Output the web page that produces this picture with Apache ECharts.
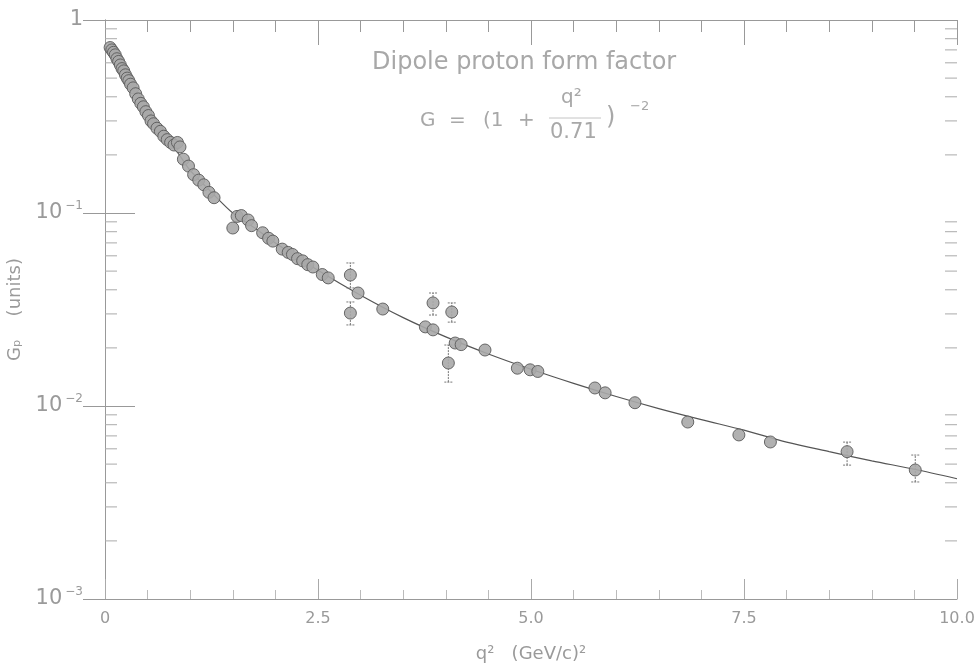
<!DOCTYPE html>
<html>
<head>
<meta charset="utf-8">
<style>
  html, body { margin: 0; padding: 0; background: #fff; }
  #chart { width: 980px; height: 671px; }
</style>
<script src="https://cdn.jsdelivr.net/npm/echarts@6/dist/echarts.min.js"></script>
</head>
<body>
<div id="chart"></div>
<script>
// measured points, q^2 (GeV^2) and G
const pointX = [0.06, 0.08, 0.10, 0.12, 0.14, 0.16, 0.18, 0.20, 0.22, 0.24, 0.26, 0.28, 0.30, 0.33, 0.36, 0.39,
  0.42, 0.45, 0.48, 0.51, 0.54, 0.57, 0.61, 0.65, 0.69, 0.73, 0.77, 0.81, 0.85, 0.88, 0.92, 0.98, 1.04, 1.10,
  1.16, 1.22, 1.28, 1.50, 1.55, 1.60, 1.68, 1.72, 1.85, 1.92, 1.97, 2.08, 2.15, 2.20, 2.26, 2.32, 2.38, 2.44,
  2.55, 2.62, 2.97, 3.26, 3.76, 3.85, 4.11, 4.18, 4.46, 4.84, 4.99, 5.08, 5.75, 5.87, 6.22, 6.84, 7.44, 7.81]
const pointY = [0.72, 0.70, 0.68, 0.66, 0.63, 0.61, 0.585, 0.56, 0.545, 0.52, 0.50, 0.485, 0.465, 0.445, 0.415, 0.39,
  0.37, 0.355, 0.335, 0.32, 0.30, 0.29, 0.275, 0.265, 0.25, 0.24, 0.232, 0.225, 0.232, 0.22, 0.19, 0.175, 0.158, 0.148,
  0.14, 0.128, 0.12, 0.0836, 0.096, 0.097, 0.092, 0.086, 0.079, 0.074, 0.0715, 0.065, 0.0625, 0.061, 0.058, 0.0565, 0.054, 0.0525,
  0.048, 0.0461, 0.0385, 0.0318, 0.0257, 0.0248, 0.0212, 0.0208, 0.0195, 0.0157, 0.0154, 0.0151, 0.0124, 0.0117, 0.0104, 0.00826, 0.00708, 0.00651]

// points drawn with error bars
const errX = [2.88, 2.88, 3.85, 4.07, 4.03, 8.71, 9.51]
const errY = [0.0477, 0.0303, 0.0342, 0.0307, 0.0167, 0.0058, 0.00466]
const errLow = [0.0409, 0.0263, 0.0296, 0.0272, 0.0133, 0.00494, 0.00404]
const errHigh = [0.0551, 0.0346, 0.0385, 0.0342, 0.0207, 0.0065, 0.00557]

// dipole curve
const curveX = [0.05, 0.1, 0.2, 0.3, 0.4, 0.5, 0.6, 0.75, 0.9, 1.0, 1.25, 1.5, 1.75, 2.0, 2.5, 3.0, 3.5, 4.0, 4.5, 5.0,
  5.5, 6.0, 6.5, 7.0, 7.5, 8.0, 8.5, 9.0, 9.5, 10.0]
const curveY = [0.73, 0.69, 0.57, 0.465, 0.378, 0.32, 0.28, 0.237, 0.192, 0.166, 0.128, 0.100, 0.084, 0.070, 0.0505,
  0.0375, 0.0287, 0.0228, 0.0186, 0.0155, 0.0131, 0.0112, 0.0097, 0.0085, 0.0075, 0.0065, 0.0058, 0.0052, 0.0047, 0.0042]

const xTickLabels = ['0', '2.5', '5.0', '7.5', '10.0']
const yTickExponents = [-3, -2, -1, 0]

// log minor ticks 2..9 in each decade
const minorVals = []
yTickExponents.slice(0, 3).forEach(e => {
  for (let k = 2; k <= 9; k++) minorVals.push(k * Math.pow(10, e))
})

const grey = '#9a9a9a'
const textGrey = '#a8a8a8'
const font = 'DejaVu Sans'

const chart = echarts.init(document.getElementById('chart'))

const txt = (left, top, text, size) => ({
  type: 'text', left, top,
  style: { text, fill: textGrey, fontSize: size, fontFamily: font }
})

const option = {
  backgroundColor: '#fff',
  animation: false,
  grid: { left: 105, right: 23, top: 20, bottom: 72, outerBoundsMode: 'none' },
  xAxis: [
    {
      type: 'value', min: 0, max: 10, interval: 2.5,
      name: 'q²   (GeV/c)²', nameLocation: 'middle', nameGap: 46,
      nameTextStyle: { color: grey, fontSize: 18, fontFamily: font },
      axisLine: { show: true, lineStyle: { color: '#999', width: 1 } },
      axisTick: { show: true, inside: true, length: 20, lineStyle: { color: '#aaa' } },
      minorTick: { show: true, splitNumber: 5, length: 9, lineStyle: { color: '#bbb' } },
      splitLine: { show: false },
      axisLabel: {
        color: grey, fontSize: 16, margin: 12, fontFamily: font,
        formatter: v => xTickLabels[Math.round(v / 2.5)]
      }
    },
    {
      type: 'value', min: 0, max: 10, interval: 2.5, position: 'top',
      axisLine: { show: true, lineStyle: { color: '#999', width: 1 } },
      axisTick: { show: true, inside: true, length: 25, lineStyle: { color: '#999' } },
      minorTick: { show: true, splitNumber: 5, length: 12, lineStyle: { color: '#999' } },
      splitLine: { show: false },
      axisLabel: { show: false }
    }
  ],
  yAxis: [
    {
      type: 'log', logBase: 10, min: 0.001, max: 1,
      name: 'Gₚ    (units)', nameLocation: 'middle', nameGap: 80, nameRotate: 90,
      nameTextStyle: { color: grey, fontSize: 18, fontFamily: font },
      axisLine: { show: true, lineStyle: { color: '#999', width: 1 } },
      axisTick: { show: true, inside: true, length: 30, lineStyle: { color: '#999' } },
      splitLine: { show: false },
      axisLabel: {
        color: grey, margin: 22, fontFamily: font,
        formatter: v => {
          const e = Math.round(Math.log10(v))
          return e === 0 ? '{b|1}' : '{b|10}{s|−' + (-e) + '}'
        },
        rich: {
          b: { fontSize: 21, color: grey, fontFamily: font },
          s: { fontSize: 12, color: grey, padding: [0, 0, 14, 3], fontFamily: font }
        }
      }
    },
    {
      type: 'log', logBase: 10, min: 0.001, max: 1, position: 'right',
      axisLine: { show: true, lineStyle: { color: '#999', width: 1 } },
      axisTick: { show: true, inside: true, length: 22, lineStyle: { color: '#999' } },
      splitLine: { show: false },
      axisLabel: { show: false }
    }
  ],
  graphic: [
    txt(372, 51, 'Dipole proton form factor', 24),
    txt(420, 111, 'G', 20),
    txt(449, 111, '=', 20),
    txt(483, 111, '(1', 20),
    txt(518, 111, '+', 20),
    txt(561, 88, 'q²', 20),
    { type: 'line', shape: { x1: 549, y1: 118, x2: 601, y2: 118 }, style: { stroke: '#c4c4c4', lineWidth: 1 } },
    txt(550, 122, '0.71', 21),
    txt(606, 106, ')', 24),
    txt(630, 100, '−2', 13)
  ],
  series: [
    {
      type: 'line', name: 'dipole', xAxisIndex: 0, yAxisIndex: 0,
      data: curveX.map((x, i) => [x, curveY[i]]),
      smooth: 0.3, showSymbol: false,
      lineStyle: { color: '#555', width: 1.2 },
      z: 2
    },
    {
      type: 'custom', name: 'error bars', xAxisIndex: 0, yAxisIndex: 0,
      data: errX.map((x, i) => [x, errLow[i], errHigh[i]]),
      renderItem: (params, api) => {
        const lo = api.coord([api.value(0), api.value(1)])
        const hi = api.coord([api.value(0), api.value(2)])
        const st = { stroke: '#777', lineWidth: 1, lineDash: [2, 1] }
        return {
          type: 'group',
          children: [
            { type: 'line', shape: { x1: lo[0], y1: lo[1], x2: hi[0], y2: hi[1] }, style: st },
            { type: 'line', shape: { x1: lo[0] - 4, y1: lo[1], x2: lo[0] + 4, y2: lo[1] }, style: st },
            { type: 'line', shape: { x1: hi[0] - 4, y1: hi[1], x2: hi[0] + 4, y2: hi[1] }, style: st }
          ]
        }
      },
      z: 3
    },
    {
      type: 'scatter', name: 'data', xAxisIndex: 0, yAxisIndex: 0,
      data: pointX.map((x, i) => [x, pointY[i]]).concat(errX.map((x, i) => [x, errY[i]])),
      symbol: 'circle', symbolSize: 12,
      itemStyle: { color: '#a9a9a9', borderColor: '#5a5a5a', borderWidth: 1, opacity: 0.9 },
      z: 4
    },
    {
      type: 'custom', name: 'minor ticks', xAxisIndex: 0, yAxisIndex: 0,
      data: minorVals.map(v => [0, v]),
      clip: false, silent: true,
      renderItem: (params, api) => {
        const l = api.coord([0, api.value(1)])
        const r = api.coord([10, api.value(1)])
        const st = { stroke: '#aaa', lineWidth: 1 }
        return {
          type: 'group',
          children: [
            { type: 'line', shape: { x1: l[0], y1: l[1], x2: l[0] + 12, y2: l[1] }, style: st },
            { type: 'line', shape: { x1: r[0], y1: r[1], x2: r[0] - 12, y2: r[1] }, style: st }
          ]
        }
      },
      z: 1
    }
  ]
}

chart.setOption(option)
window.addEventListener('resize', () => chart.resize())
</script>
</body>
</html>
